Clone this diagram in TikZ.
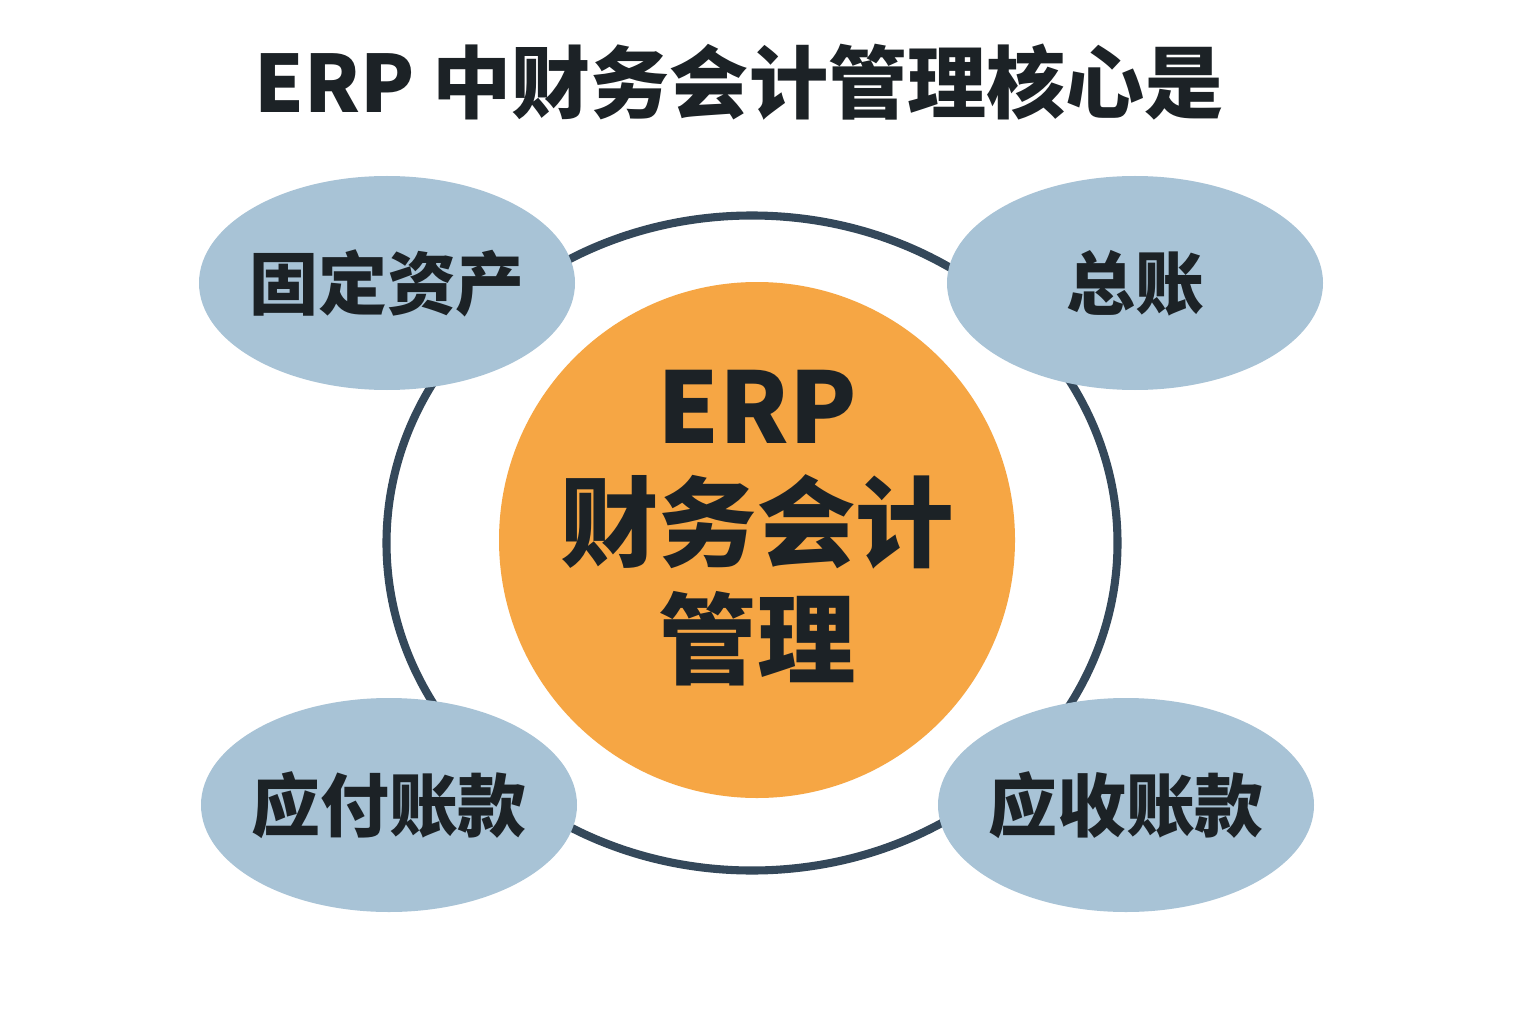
\documentclass[tikz,border=0pt]{standalone}
\usepackage{fontspec}
\setmainfont{Noto Sans CJK SC}
\usepackage{tikz}
\usetikzlibrary{shapes.geometric}
\definecolor{ringcolor}{RGB}{52,72,90}
\definecolor{corecolor}{RGB}{246,166,68}
\definecolor{modcolor}{RGB}{168,195,214}
\definecolor{inkcolor}{RGB}{28,34,38}

\begin{document}
\begin{tikzpicture}[
  core/.style={circle,fill=corecolor,minimum size=5.16cm,inner sep=0pt},
  coretext/.style={align=center,inner sep=0pt,text=inkcolor,font=\bfseries\fontsize{28}{33.2}\selectfont},
  ring/.style={ellipse,draw=ringcolor,line width=2.3pt,minimum width=7.31cm,minimum height=6.55cm},
  module/.style={ellipse,fill=modcolor,minimum width=3.76cm,minimum height=2.14cm,inner sep=-0.5cm,
    text=inkcolor,font=\bfseries\fontsize{19.6}{22}\selectfont},
  heading/.style={text=inkcolor,font=\bfseries\fontsize{22.5}{26}\selectfont}
]
  \useasboundingbox[fill=white] (0,0) rectangle (15.36,10.24);
  \node[heading] (title) at (7.39,9.42) {ERP 中财务会计管理核心是};

  \node[ring] (ring) at (7.52,4.81) {};
  \node[core] (core) at (7.57,4.84) {};
  \node[coretext] (corename) at ([yshift=0.12cm]core.center) {ERP\\财务会计\\管理};

  \node[module] (assets) at (3.87,7.41) {固定资产};
  \node[module] (ledger) at (11.35,7.41) {总账};
  \node[module] (payable) at (3.89,2.19) {应付账款};
  \node[module] (receivable) at (11.26,2.19) {应收账款};
\end{tikzpicture}
\end{document}
